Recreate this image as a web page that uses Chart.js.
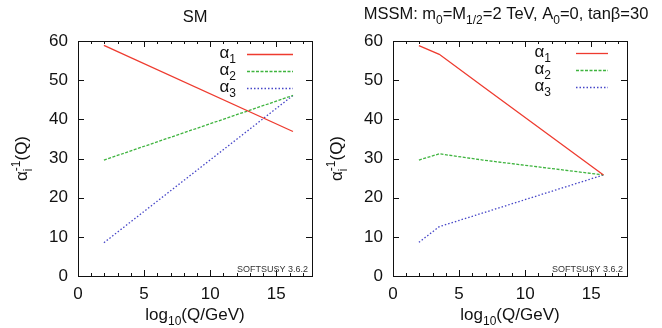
<!DOCTYPE html>
<html>
<head>
<meta charset="utf-8">
<script src="https://cdn.jsdelivr.net/npm/chart.js@4.4.1/dist/chart.umd.min.js"></script>
<style>
body{margin:0;background:#fff;width:662px;height:328px;overflow:hidden}
canvas{position:absolute;top:0}
</style>
</head>
<body>
<canvas id="smChart" style="left:0" width="331" height="328"></canvas>
<canvas id="mssmChart" style="left:316px" width="346" height="328"></canvas>
<script>
// SM running, inverse couplings vs log10(Q/GeV)
var smQ = [1.96, 16.26]
var smA1 = [58.9, 36.9]
var smA2 = [29.6, 46.1]
var smA3 = [8.5, 46.1]

// MSSM running (m0=M1/2=2 TeV)
var mssmQ = [1.96, 3.5, 6.8, 15.92]
var mssmA1 = [58.8, 56.6, 48.4, 25.8]
var mssmA2 = [29.6, 31.2, 29.6, 25.8]
var mssmA3 = [8.6, 12.6, 16.1, 25.8]

var xTicks = [0, 5, 10, 15]
var yTicks = [0, 10, 20, 30, 40, 50, 60]
var subs = ['1', '2', '3']

var FONT = "'Liberation Sans', Arial, sans-serif"
var colors = ['#ee3b2f', '#3fb43f', '#4646c8']
var dashes = [[], [3, 1.5], [1.5, 2]]

function pts(q, a) {
    return q.map(function (v, i) { return {x: v, y: a[i]} })
}

// text with sub/superscripts: parts = [[text, kind]], kind '' | 'b' | 'p' | 's' (stacked [sub,sup])
function richWidth(ctx, parts, size) {
    var w = 0
    parts.forEach(function (p) {
        if (p[1] == 's') {
            ctx.font = Math.round(size * 0.7) + 'px ' + FONT
            w += Math.max(ctx.measureText(p[0][0]).width, ctx.measureText(p[0][1]).width)
        } else {
            ctx.font = (p[1] ? Math.round(size * 0.7) : size) + 'px ' + FONT
            w += ctx.measureText(p[0]).width
        }
    })
    return w
}
function drawRich(ctx, parts, x, y, size, align) {
    var w = richWidth(ctx, parts, size)
    if (align == 'center') x -= w / 2
    if (align == 'right') x -= w
    ctx.textAlign = 'left'
    ctx.textBaseline = 'alphabetic'
    var sm = Math.round(size * 0.7)
    parts.forEach(function (p) {
        if (p[1] == 's') {
            ctx.font = sm + 'px ' + FONT
            ctx.fillText(p[0][0], x, y + size * 0.3)
            ctx.fillText(p[0][1], x, y - size * 0.42)
            x += Math.max(ctx.measureText(p[0][0]).width, ctx.measureText(p[0][1]).width)
            return
        }
        ctx.font = (p[1] ? sm : size) + 'px ' + FONT
        var dy = p[1] == 'b' ? size * 0.3 : (p[1] == 'p' ? -size * 0.42 : 0)
        ctx.fillText(p[0], x, y + dy)
        x += ctx.measureText(p[0]).width
    })
}

var framePlugin = {
    id: 'frame',
    afterDraw: function (chart) {
        var ctx = chart.ctx, a = chart.chartArea
        var xs = chart.scales.x, ys = chart.scales.y
        ctx.save()
        ctx.strokeStyle = '#111'
        ctx.lineWidth = 1
        ctx.strokeRect(Math.round(a.left) + 0.5, Math.round(a.top) + 0.5, Math.round(a.right - a.left), Math.round(a.bottom - a.top))
        ctx.beginPath()
        yTicks.forEach(function (v) {
            var py = Math.round(ys.getPixelForValue(v)) + 0.5
            ctx.moveTo(a.left, py); ctx.lineTo(a.left + 6, py)
            ctx.moveTo(a.right, py); ctx.lineTo(a.right - 6, py)
        })
        for (var v = 1; v < xs.max; v++) {
            var len = v % 5 == 0 ? 6 : 3
            var px = Math.round(xs.getPixelForValue(v)) + 0.5
            ctx.moveTo(px, a.bottom); ctx.lineTo(px, a.bottom - len)
            ctx.moveTo(px, a.top); ctx.lineTo(px, a.top + len)
        }
        ctx.stroke()
        ctx.restore()
    }
}

var textPlugin = {
    id: 'texts',
    afterDraw: function (chart, args, o) {
        var ctx = chart.ctx, a = chart.chartArea
        ctx.save()
        ctx.fillStyle = '#111'
        drawRich(ctx, o.title, o.titleX, o.titleY, 16.5, 'center')
        drawRich(ctx, [['log', ''], ['10', 'b'], ['(Q/GeV)', '']], (a.left + a.right) / 2, 320, 17, 'center')
        ctx.save()
        ctx.translate(o.yTitleX, (a.top + a.bottom) / 2)
        ctx.rotate(-Math.PI / 2)
        drawRich(ctx, [['α', ''], [['i', '-1'], 's'], ['(Q)', '']], 0, 0, 17, 'center')
        ctx.restore()
        // legend, text left of the line sample
        chart.data.datasets.forEach(function (ds, i) {
            var y = o.legY + i * 17
            ctx.fillStyle = '#111'
            drawRich(ctx, [['α', ''], [subs[i], 'b']], o.legText, y + 4, 17, 'right')
            ctx.beginPath()
            ctx.strokeStyle = ds.borderColor
            ctx.lineWidth = ds.borderWidth
            ctx.setLineDash(ds.borderDash || [])
            ctx.moveTo(o.legX0, y + 0.5); ctx.lineTo(o.legX1, y + 0.5)
            ctx.stroke()
        })
        ctx.setLineDash([])
        ctx.font = '9px ' + FONT
        ctx.fillStyle = '#333'
        ctx.textAlign = 'right'
        ctx.fillText('SOFTSUSY 3.6.2', a.right - 4, a.bottom - 4)
        ctx.restore()
    }
}

function makeChart(id, q, a1, a2, a3, o) {
    var tickFont = {family: FONT, size: 17}
    return new Chart(id, {
        type: 'scatter',
        data: {
            datasets: [a1, a2, a3].map(function (a, i) {
                return {
                    label: 'α' + subs[i],
                    data: pts(q, a),
                    showLine: true,
                    pointRadius: 0,
                    borderColor: colors[i],
                    borderWidth: 1.3,
                    borderDash: dashes[i]
                }
            })
        },
        options: {
            responsive: false,
            animation: false,
            devicePixelRatio: 1,
            layout: {padding: {top: 41, right: o.padRight, left: 0, bottom: 0}},
            plugins: {legend: {display: false}, tooltip: {enabled: false}, texts: o},
            scales: {
                x: {
                    type: 'linear', min: 0, max: 17.7,
                    afterBuildTicks: function (s) { s.ticks = xTicks.map(function (v) { return {value: v} }) },
                    afterFit: function (s) { s.height = 52 },
                    grid: {display: false, drawTicks: false},
                    border: {display: false},
                    ticks: {padding: 8, font: tickFont, color: '#111', maxRotation: 0, autoSkip: false}
                },
                y: {
                    min: 0, max: 60,
                    afterBuildTicks: function (s) { s.ticks = yTicks.map(function (v) { return {value: v} }) },
                    afterFit: function (s) { s.width = o.axisW },
                    grid: {display: false, drawTicks: false},
                    border: {display: false},
                    ticks: {padding: 10, font: tickFont, color: '#111'}
                }
            }
        },
        plugins: [framePlugin, textPlugin]
    })
}

makeChart('smChart', smQ, smA1, smA2, smA3, {
    axisW: 78, padRight: 19,
    title: [['SM', '']], titleX: 195, titleY: 22,
    yTitleX: 27,
    legText: 236, legX0: 247, legX1: 293, legY: 54
})

// right canvas starts at page x 316
makeChart('mssmChart', mssmQ, mssmA1, mssmA2, mssmA3, {
    axisW: 77, padRight: 35,
    title: [['MSSM: m', ''], ['0', 'b'], ['=M', ''], ['1/2', 'b'], ['=2 TeV, A', ''], ['0', 'b'], ['=0, tanβ=30', '']],
    titleX: 190, titleY: 19,
    yTitleX: 26,
    legText: 235, legX0: 260, legX1: 292, legY: 53
})
</script>
</body>
</html>
